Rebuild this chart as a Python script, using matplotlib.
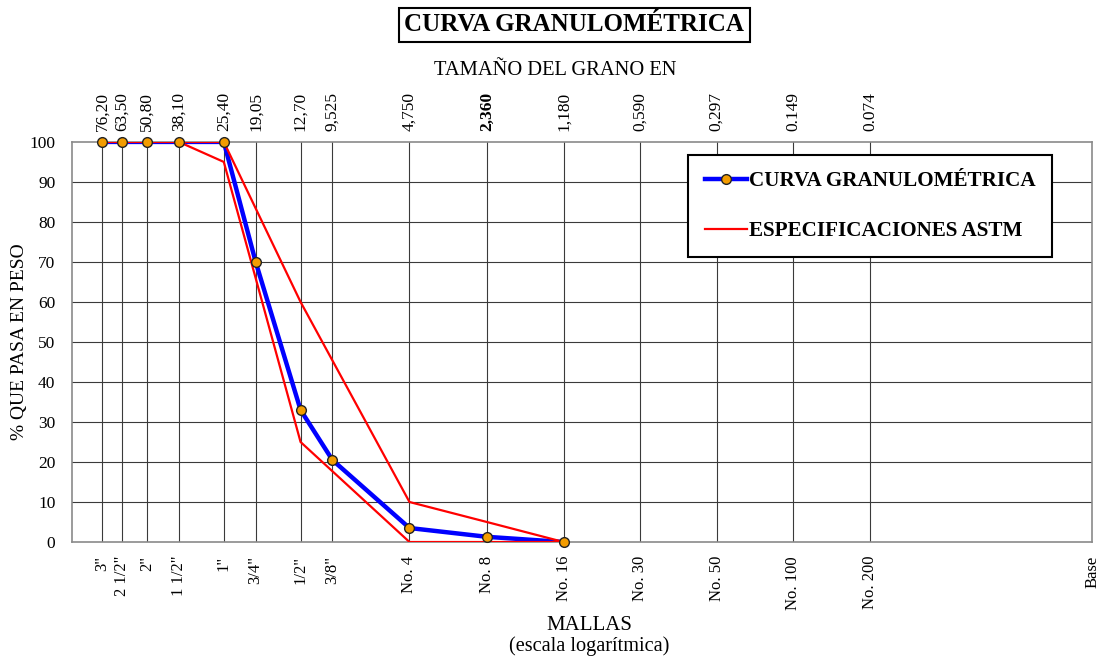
import matplotlib
matplotlib.use("Agg")
import matplotlib.pyplot as plt
from matplotlib.lines import Line2D
from matplotlib.ticker import NullLocator, FixedLocator

plt.rcParams['font.family'] = ['Liberation Serif', 'DejaVu Serif']

# tamices (mm) y etiquetas
sizes = [76.20, 63.50, 50.80, 38.10, 25.40, 19.05, 12.70, 9.525, 4.750, 2.360,
         1.180, 0.590, 0.297, 0.149, 0.074, 0.01]
size_labels = ["76,20", "63,50", "50,80", "38,10", "25,40", "19,05", "12,70", "9,525",
               "4,750", "2,360", "1,180", "0,590", "0,297", "0.149", "0.074", ""]
mesh_labels = ['3"', '2 1/2"', '2"', '1 1/2"', '1"', '3/4"', '1/2"', '3/8"',
               "No. 4", "No. 8", "No. 16", "No. 30", "No. 50", "No. 100", "No. 200", "Base"]

# curva granulometrica
curve_sizes = [76.20, 63.50, 50.80, 38.10, 25.40, 19.05, 12.70, 9.525, 4.750, 2.360, 1.180]
curve_pass = [100, 100, 100, 100, 100, 70, 33, 20.5, 3.5, 1.3, 0]

# especificaciones ASTM
spec_sizes = [76.20, 63.50, 50.80, 38.10, 25.40, 12.70, 4.750, 2.360, 1.180]
spec_upper = [100, 100, 100, 100, 100, 60, 10, 5, 0]
spec_lower = [100, 100, 100, 100, 95, 25, 0, 0, 0]

fig = plt.figure(figsize=(10.98, 6.57), dpi=100)
ax = fig.add_axes([0.0656, 0.175, 0.929, 0.609])

ax.set_xscale('log')
ax.set_xlim(100, 0.01)
ax.set_ylim(0, 100)

# grid
for s in sizes[:-1]:
    ax.axvline(s, color='#3a3a3a', lw=0.8, zorder=1)
for v in range(10, 100, 10):
    ax.axhline(v, color='#3a3a3a', lw=0.8, zorder=1)

ax.plot(curve_sizes, curve_pass, color='#0000FF', lw=3.2, zorder=2, solid_capstyle='round')
ax.plot(spec_sizes, spec_upper, color='#FF0000', lw=1.6, zorder=3)
ax.plot(spec_sizes, spec_lower, color='#FF0000', lw=1.6, zorder=3)
ax.plot(curve_sizes, curve_pass, ls='none', marker='o', ms=7, mfc='#F39C00',
        mec='#222222', mew=1.0, zorder=4, clip_on=False)

for sp in ax.spines.values():
    sp.set_color('#8a8a8a')
    sp.set_linewidth(1.2)

ax.xaxis.set_minor_locator(NullLocator())
ax.xaxis.set_major_locator(FixedLocator(sizes))
ax.set_xticklabels(mesh_labels, rotation=90, va='top', ha='center', fontsize=12)
ax.tick_params(axis='x', length=0, pad=10)
ax.set_yticks(range(0, 101, 10))
ax.tick_params(axis='y', length=0, pad=12, labelsize=12.5)

ax2 = ax.twiny()
ax2.set_xscale('log')
ax2.set_xlim(ax.get_xlim())
ax2.xaxis.set_minor_locator(NullLocator())
ax2.xaxis.set_major_locator(FixedLocator(sizes))
ax2.set_xticklabels(size_labels, rotation=90, va='bottom', ha='center', fontsize=12.5)
ax2.tick_params(axis='x', length=0, pad=8)
for lbl in ax2.get_xticklabels():
    if lbl.get_text() == "2,360":
        lbl.set_fontweight('bold')
for sp in ax2.spines.values():
    sp.set_visible(False)

ax.set_ylabel("% QUE PASA EN PESO", fontsize=14, labelpad=1)

fig.text(0.523, 0.962, "CURVA GRANULOMÉTRICA", fontsize=18, fontweight='bold',
         ha='center', va='center',
         bbox=dict(boxstyle='square,pad=0.22', fc='white', ec='black', lw=1.5))
fig.text(0.506, 0.893, "TAMAÑO DEL GRANO EN", fontsize=14.8, ha='center', va='center')
fig.text(0.537, 0.048, "MALLAS", fontsize=15, ha='center', va='center')
fig.text(0.537, 0.016, "(escala logarítmica)", fontsize=14.6, ha='center', va='center')

handles = [Line2D([], [], color='#0000FF', lw=3.2, marker='o', ms=7, mfc='#F39C00', mec='#222222'),
           Line2D([], [], color='#FF0000', lw=1.6)]
leg = ax.legend(handles, ["CURVA GRANULOMÉTRICA", "ESPECIFICACIONES ASTM"],
                loc='upper right', bbox_to_anchor=(0.961, 0.9675), borderaxespad=0,
                prop={'weight': 'bold', 'size': 15.2}, handlelength=2.0, handletextpad=0.1,
                labelspacing=1.4, borderpad=0.78, fancybox=False, framealpha=1,
                edgecolor='black')
leg.get_frame().set_linewidth(1.5)
leg.set_zorder(10)

fig.savefig("out.png", dpi=100)
